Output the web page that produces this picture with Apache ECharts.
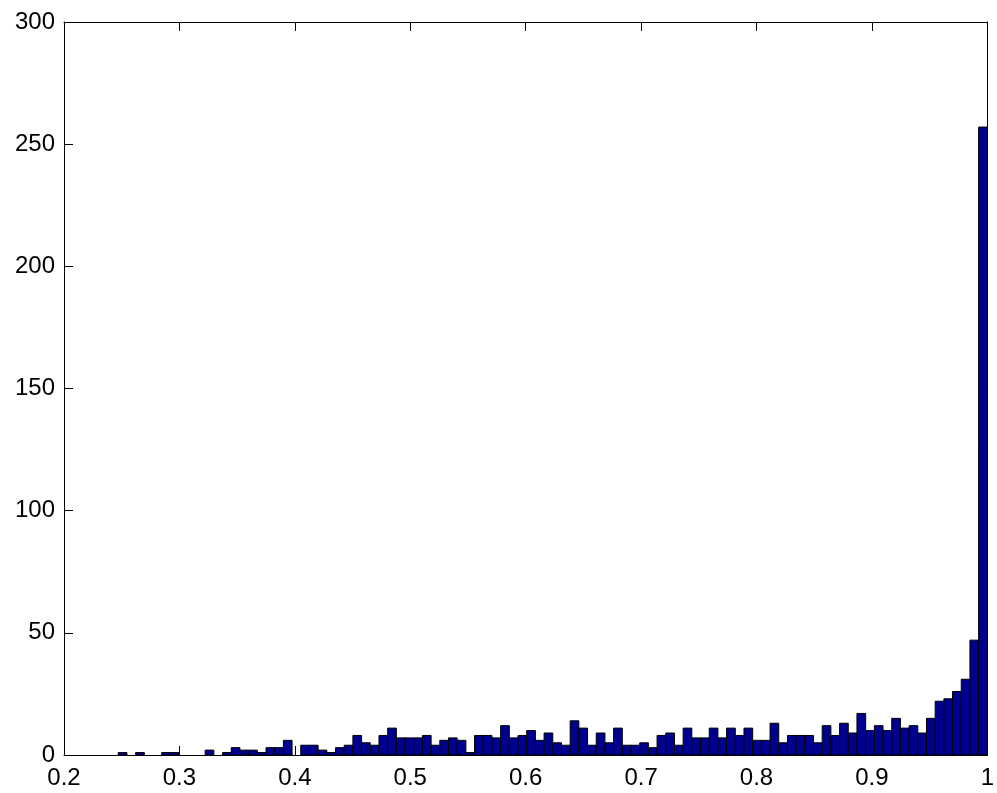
<!DOCTYPE html>
<html>
<head>
<meta charset="utf-8">
<script src="https://cdn.jsdelivr.net/npm/echarts@6/dist/echarts.min.js"></script>
<style>
html,body{margin:0;padding:0;background:#fff;}
#chart{width:997px;height:793px;}
</style>
</head>
<body>
<div id="chart"></div>
<script>
// Histogram (100 bins)
const binStart = 0.2470;
const binWidth = 0.00753;
const counts = [
  1,0,1,0,0,1,1,0,0,0, 2,0,1,3,2,2,1,3,3,6,
  0,4,4,2,1,3,4,8,5,4, 8,11,7,7,7,8,4,6,7,6,
  1,8,8,7,12,7,8,10,6,9, 5,4,14,11,4,9,5,11,4,4,
  5,3,8,9,4,11,7,7,11,7, 11,8,11,6,6,13,5,8,8,8,
  5,12,8,13,9,17,10,12,10,15, 11,12,9,15,22,23,26,31,47,257
];
const xTicks = [0.2, 0.3, 0.4, 0.5, 0.6, 0.7, 0.8, 0.9, 1];
const yTicks = [0, 50, 100, 150, 200, 250, 300];

const barData = counts.map((c, i) => [binStart + i * binWidth, binStart + (i + 1) * binWidth, c]);

const chart = echarts.init(document.getElementById('chart'));
const font = 'Liberation Sans, Arial, Helvetica, sans-serif';
const lineStyle = {color: '#000', width: 1};
const fmtX = v => String(+(+v).toFixed(1));

const xBase = {
  type: 'value', min: xTicks[0], max: xTicks[xTicks.length - 1], interval: 0.1,
  axisLine: {show: true, onZero: false, lineStyle: lineStyle},
  axisTick: {show: true, inside: true, length: 9, lineStyle: lineStyle},
  splitLine: {show: false}
};
const yBase = {
  type: 'value', min: yTicks[0], max: yTicks[yTicks.length - 1], interval: 50,
  axisLine: {show: true, onZero: false, lineStyle: lineStyle},
  axisTick: {show: true, inside: true, length: 9, lineStyle: lineStyle},
  splitLine: {show: false}
};

chart.setOption({
  backgroundColor: '#fff',
  animation: false,
  grid: {left: 64, right: 8, top: 22, bottom: 38, containLabel: false},
  xAxis: [
    Object.assign({}, xBase, {position: 'bottom',
      axisLabel: {show: true, margin: 11, fontSize: 24, fontFamily: font, color: '#000', formatter: fmtX}}),
    Object.assign({}, xBase, {position: 'top', axisLabel: {show: false}})
  ],
  yAxis: [
    Object.assign({}, yBase, {position: 'left',
      axisLabel: {show: true, margin: 9, fontSize: 24, fontFamily: font, color: '#000'}}),
    Object.assign({}, yBase, {position: 'right', axisLabel: {show: false}})
  ],
  series: [{
    type: 'custom',
    xAxisIndex: 0, yAxisIndex: 0,
    data: barData,
    encode: {x: [0, 1], y: 2},
    renderItem: function (params, api) {
      const x0 = api.value(0), x1 = api.value(1), h = api.value(2);
      if (!h) return null;
      const p0 = api.coord([x0, h]);
      const p1 = api.coord([x1, 0]);
      return {
        type: 'rect',
        shape: {x: p0[0], y: p0[1], width: p1[0] - p0[0], height: p1[1] - p0[1]},
        style: {fill: '#00008F', stroke: '#000', lineWidth: 1}
      };
    }
  }]
});
</script>
</body>
</html>
